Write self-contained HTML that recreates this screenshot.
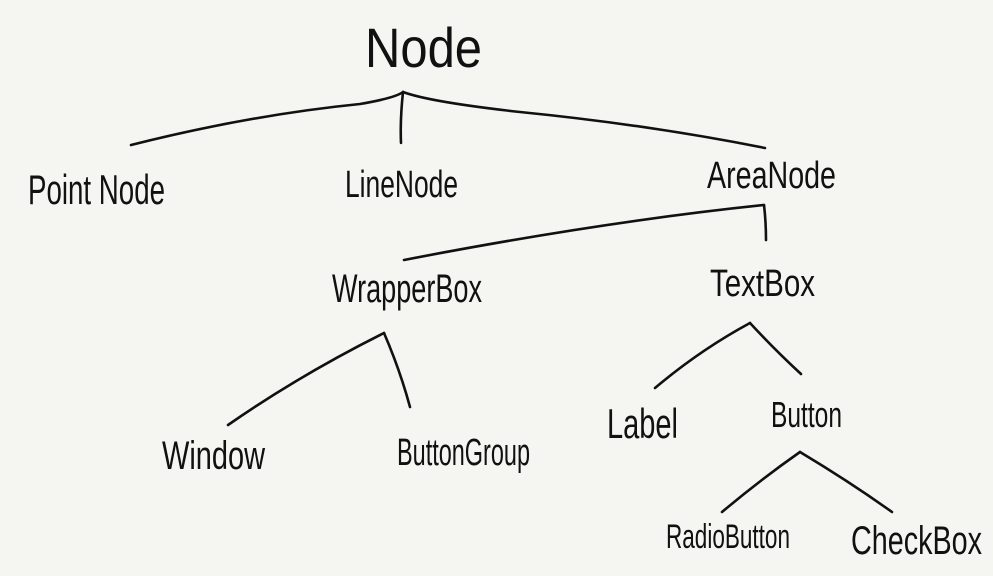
<!DOCTYPE html>
<html><head><meta charset="utf-8"><style>
html,body{margin:0;padding:0;background:#f5f6f1;}
svg{display:block;}
text{font-family:"Liberation Sans",sans-serif;fill:#111;}
</style></head><body>
<svg width="993" height="576" viewBox="0 0 993 576" xmlns="http://www.w3.org/2000/svg">
<rect width="993" height="576" fill="#f5f6f1"/>
<g fill="none" stroke="#111" stroke-width="2.6" stroke-linecap="round" stroke-linejoin="round">
<path d="M131 145 Q 250 115 360 104 Q 395 98 403 92"/>
<path d="M403 92 Q 400 120 401 143"/>
<path d="M403 92 Q 430 102 520 112 Q 650 125 765 148"/>
<path d="M764 205 Q 766 222 766 240"/>
<path d="M764 205 Q 600 222 404 260"/>
<path d="M384 333 Q 300 375 228 425"/>
<path d="M384 333 Q 400 370 410 407"/>
<path d="M750 323 Q 700 350 655 388"/>
<path d="M750 323 Q 775 350 801 374"/>
<path d="M800 452 Q 760 480 722 512"/>
<path d="M800 452 Q 850 482 892 512"/>
</g>
<text x="365" y="67" font-size="56" textLength="117" lengthAdjust="spacingAndGlyphs">Node</text>
<text x="28" y="204" font-size="42" textLength="137" lengthAdjust="spacingAndGlyphs">Point Node</text>
<text x="345" y="197" font-size="38" textLength="113" lengthAdjust="spacingAndGlyphs">LineNode</text>
<text x="707" y="188" font-size="38" textLength="129" lengthAdjust="spacingAndGlyphs">AreaNode</text>
<text x="332" y="302" font-size="40" textLength="150" lengthAdjust="spacingAndGlyphs">WrapperBox</text>
<text x="710" y="296" font-size="38" textLength="105" lengthAdjust="spacingAndGlyphs">TextBox</text>
<text x="162" y="469" font-size="40" textLength="103" lengthAdjust="spacingAndGlyphs">Window</text>
<text x="397" y="465" font-size="38" textLength="133" lengthAdjust="spacingAndGlyphs">ButtonGroup</text>
<text x="607" y="438" font-size="42" textLength="71" lengthAdjust="spacingAndGlyphs">Label</text>
<text x="771" y="427" font-size="36" textLength="71" lengthAdjust="spacingAndGlyphs">Button</text>
<text x="666" y="548" font-size="34" textLength="124" lengthAdjust="spacingAndGlyphs">RadioButton</text>
<text x="851" y="554" font-size="40" textLength="131" lengthAdjust="spacingAndGlyphs">CheckBox</text>
</svg>
</body></html>
